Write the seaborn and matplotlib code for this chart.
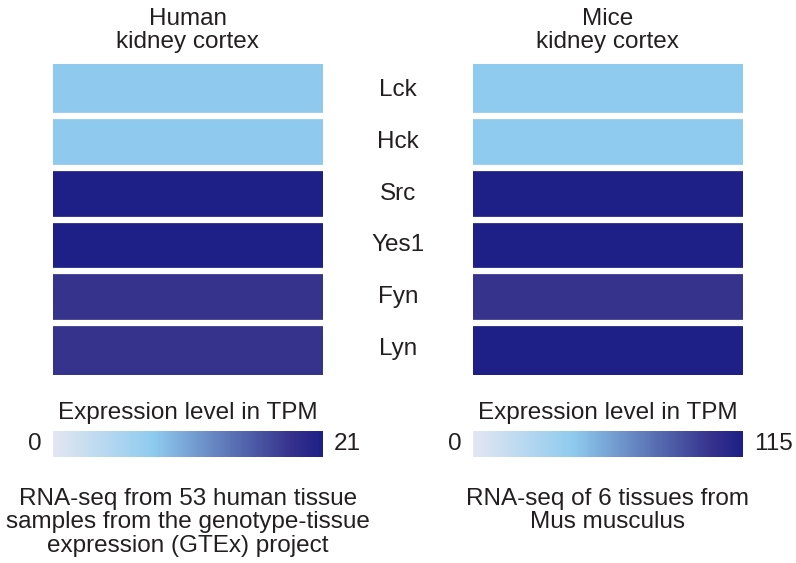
import numpy as np
import pandas as pd
import matplotlib
matplotlib.use("Agg")
import matplotlib.pyplot as plt
from matplotlib.colors import LinearSegmentedColormap
import seaborn as sns

# -----------------------------
# DATA
# -----------------------------
genes = ["Lck", "Hck", "Src", "Yes1", "Fyn", "Lyn"]
human_tpm = [7.8, 7.8, 21.0, 21.0, 18.5, 18.5]
mice_tpm = [42.5, 42.5, 115.0, 115.0, 101.0, 115.0]
human_max = 21
mice_max = 115

sns.set_theme(style="white")
plt.rcParams["font.family"] = ["Liberation Sans", "DejaVu Sans"]

cmap = LinearSegmentedColormap.from_list(
    "tpm",
    [(0.0, "#e3e6f1"), (0.37, "#8fcbef"), (0.7, "#5468ae"),
     (0.88, "#36338d"), (1.0, "#1e1f87")],
)

txt = "#231f20"
fs = 17.5

fig = plt.figure(figsize=(7.96, 5.63), dpi=100)

panels = [
    (0.0666, "Human\nkidney cortex", human_tpm, human_max,
     "RNA-seq from 53 human tissue\nsamples from the genotype-tissue\nexpression (GTEx) project"),
    (0.594, "Mice\nkidney cortex", mice_tpm, mice_max,
     "RNA-seq of 6 tissues from\nMus musculus"),
]

for left, title, vals, vmax, note in panels:
    ax = fig.add_axes([left, 0.334, 0.339, 0.552])
    cax = fig.add_axes([left, 0.188, 0.339, 0.046])
    df = pd.DataFrame({"tpm": vals}, index=genes)
    sns.heatmap(df, ax=ax, cmap=cmap, vmin=0, vmax=vmax,
                linewidths=0, cbar_ax=cax,
                cbar_kws={"orientation": "horizontal"})
    # white gaps between rows only
    for i in range(1, len(genes)):
        ax.axhline(i, color="white", lw=4.5)
    ax.set_xticks([])
    ax.set_yticks([])
    ax.set_xlabel("")
    ax.set_ylabel("")
    cax.set_xticks([])
    for s in cax.spines.values():
        s.set_visible(False)
    cx = left + 0.339 / 2
    fig.text(cx, 0.985, title, ha="center", va="top", fontsize=fs,
             color=txt, linespacing=1.05)
    fig.text(cx, 0.266, "Expression level in TPM", ha="center", va="center",
             fontsize=fs, color=txt)
    fig.text(left - 0.014, 0.211, "0", ha="right", va="center",
             fontsize=fs, color=txt)
    fig.text(left + 0.339 + 0.014, 0.211, str(vmax), ha="left", va="center",
             fontsize=fs, color=txt)
    fig.text(cx, 0.133, note, ha="center", va="top", fontsize=fs,
             color=txt, linespacing=1.08)

# gene labels between the two heatmaps
row_h = 0.552 / len(genes)
for i, g in enumerate(genes):
    y = 0.334 + 0.552 - (i + 0.5) * row_h
    fig.text(0.5, y, g, ha="center", va="center", fontsize=fs, color=txt)

fig.savefig("out.png", dpi=100)
